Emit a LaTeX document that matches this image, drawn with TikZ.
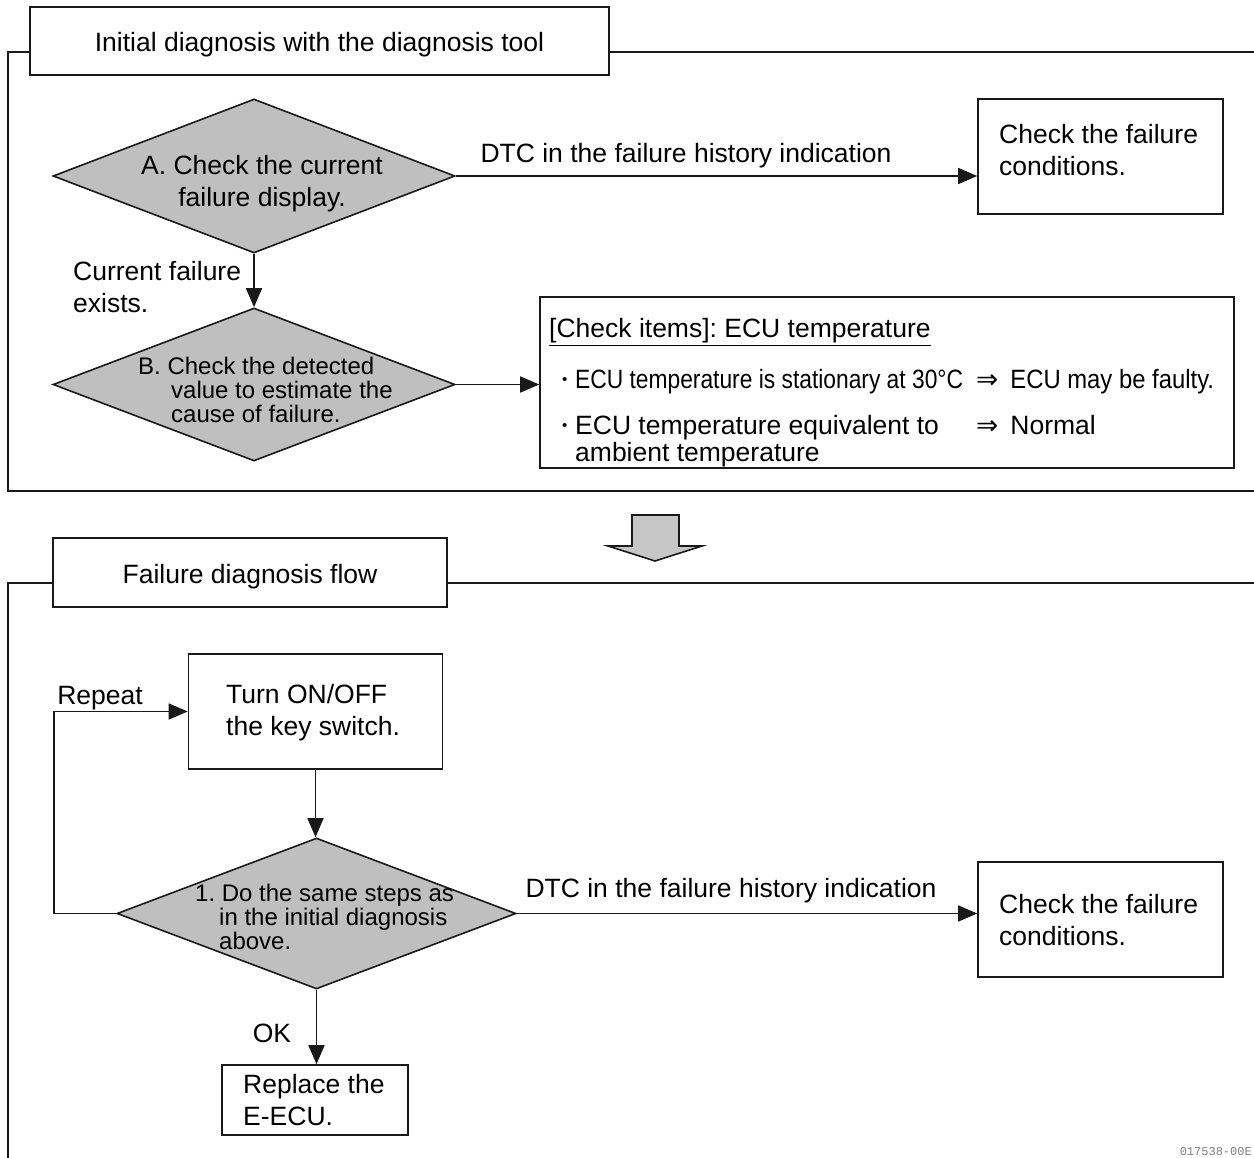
\documentclass[tikz,border=0pt]{standalone}
\usepackage{fontspec}
\usepackage{graphicx}
\setmainfont{Liberation Sans}
\newfontfamily\symf{DejaVu Sans}
\newfontfamily\codef{Liberation Mono}
\usetikzlibrary{shapes.geometric,arrows.meta}
\newcommand{\smbul}{\raisebox{4pt}{\fontsize{15}{15}\selectfont •}}
\newcommand{\implarr}{{\symf ⇒}\hspace{12pt}}
\frenchspacing
\begin{document}
\begin{tikzpicture}[x=1pt,y=-1pt,
  ln/.style={line width=1.6pt, draw=black!90},
  arr/.style={ln, -{Triangle[length=19pt,width=16pt]}},
  box/.style={ln, rectangle, inner sep=0pt, fill=white},
  hbox/.style={box, font=\fontsize{26.5}{32}\selectfont, text height=21pt, text depth=0pt},
  dia/.style={ln, diamond, fill=gray!50, inner sep=0pt},
  txt/.style={inner sep=0pt, font=\fontsize{26.5}{32}\selectfont, align=left},
  dtxt/.style={inner sep=0pt, font=\fontsize{24}{24}\selectfont, align=left},
]
\useasboundingbox (0,0) rectangle (1254,1158);
\fill[white] (0,0) rectangle (1254,1158);

% ---------- top section ----------
\draw[ln] (30,52) -- (8,52) -- (8,491) -- (1254,491);
\draw[ln] (609,52) -- (1254,52);
\node[hbox, minimum width=579pt, minimum height=68pt] (h1) at (319.5,41) {Initial diagnosis with the diagnosis tool};

\node[dia, minimum width=402pt, minimum height=154pt] (dA) at (254,176) {};
\node[txt, align=center] (tA) at (262,184) {A. Check the current\\failure display.};

\node[box, minimum width=245pt, minimum height=115pt] (cf1) at (1100.5,156.5) {};
\node[txt, anchor=west] (tcf1) at (999,150) {Check the failure\\conditions.};

\draw[arr] (dA.east) -- (dA.east -| cf1.west);
\node[txt] (l1) at (686,156) {DTC in the failure history indication};

\node[dia, minimum width=402pt, minimum height=153pt] (dB) at (254,384.5) {};
\node[dtxt, anchor=west] (tB) at (138,390) {B. Check the detected\\\hspace*{33pt}value to estimate the\\\hspace*{33pt}cause of failure.};

\draw[arr] (dA.south) -- (dB.north);
\node[txt, anchor=west] (l2) at (73,287) {Current failure\\exists.};

\node[box, minimum width=694pt, minimum height=171pt] (ci) at (887,382.5) {};
\draw[arr] (dB.east) -- (dB.east -| ci.west);
\node[txt, anchor=west] (cih) at (549,331) {[Check items]: ECU temperature};
\draw[line width=1.5pt] ([yshift=-2pt]cih.south west) -- ([yshift=-2pt]cih.south east);
\node[txt, anchor=west] (b1) at (562,382) {\makebox[13pt][l]{\smbul}\scalebox{0.86}[1]{ECU temperature is stationary at 30°C}};
\node[txt, anchor=west] (r1) at (976,382) {\implarr\scalebox{0.9}[1]{ECU may be faulty.}};
\node[txt, anchor=west, font=\fontsize{26.5}{27}\selectfont] (b2) at (562,441.5) {\makebox[13pt][l]{\smbul}ECU temperature equivalent to\\\hspace*{13pt}ambient temperature};
\node[txt, anchor=west] (r2) at (976,425) {\implarr Normal};

% big arrow
\draw[ln, fill=gray!45] (632,515) -- (679,515) -- (679,546) -- (702,546) -- (655,561) -- (608,546) -- (632,546) -- cycle;

% ---------- bottom section ----------
\draw[ln] (53,583) -- (8,583) -- (8,1160);
\draw[ln] (447,583) -- (1254,583);
\node[hbox, minimum width=394pt, minimum height=69pt] (h2) at (250,572.5) {Failure diagnosis flow};

\node[box, minimum width=254pt, minimum height=115pt] (tb) at (315.5,711.5) {};
\node[txt, anchor=west] (ttb) at (226,713) {Turn ON/OFF\\the key switch.};

\node[dia, minimum width=399pt, minimum height=151pt] (d1) at (316.5,913.5) {};
\node[dtxt, anchor=west] (t1) at (195,917) {1. Do the same steps as\\\hspace*{24pt}in the initial diagnosis\\\hspace*{24pt}above.};

\node[box, minimum width=245pt, minimum height=115pt] (cf2) at (1100.5,919.5) {};
\node[txt, anchor=west] (tcf2) at (999,920) {Check the failure\\conditions.};

\node[box, minimum width=186pt, minimum height=70pt] (rep) at (315,1100) {};
\node[txt, anchor=west] (trep) at (243,1100) {Replace the\\E-ECU.};

\draw[arr] (tb.south) -- (tb.south |- d1.north);
\draw[arr] (d1.west) -- ++(-62,0) |- (tb.west);
\node[txt] (l3) at (100,698) {Repeat};
\draw[arr] (d1.east) -- (d1.east -| cf2.west);
\node[txt] (l4) at (731,891) {DTC in the failure history indication};
\draw[arr] (d1.south) -- (d1.south |- rep.north);
\node[txt] (l5) at (272,1033) {OK};

\node[inner sep=0pt, anchor=east, text=gray, font=\codef\fontsize{12}{12}\selectfont] (code) at (1252,1152) {017538-00E};
\end{tikzpicture}
\end{document}
